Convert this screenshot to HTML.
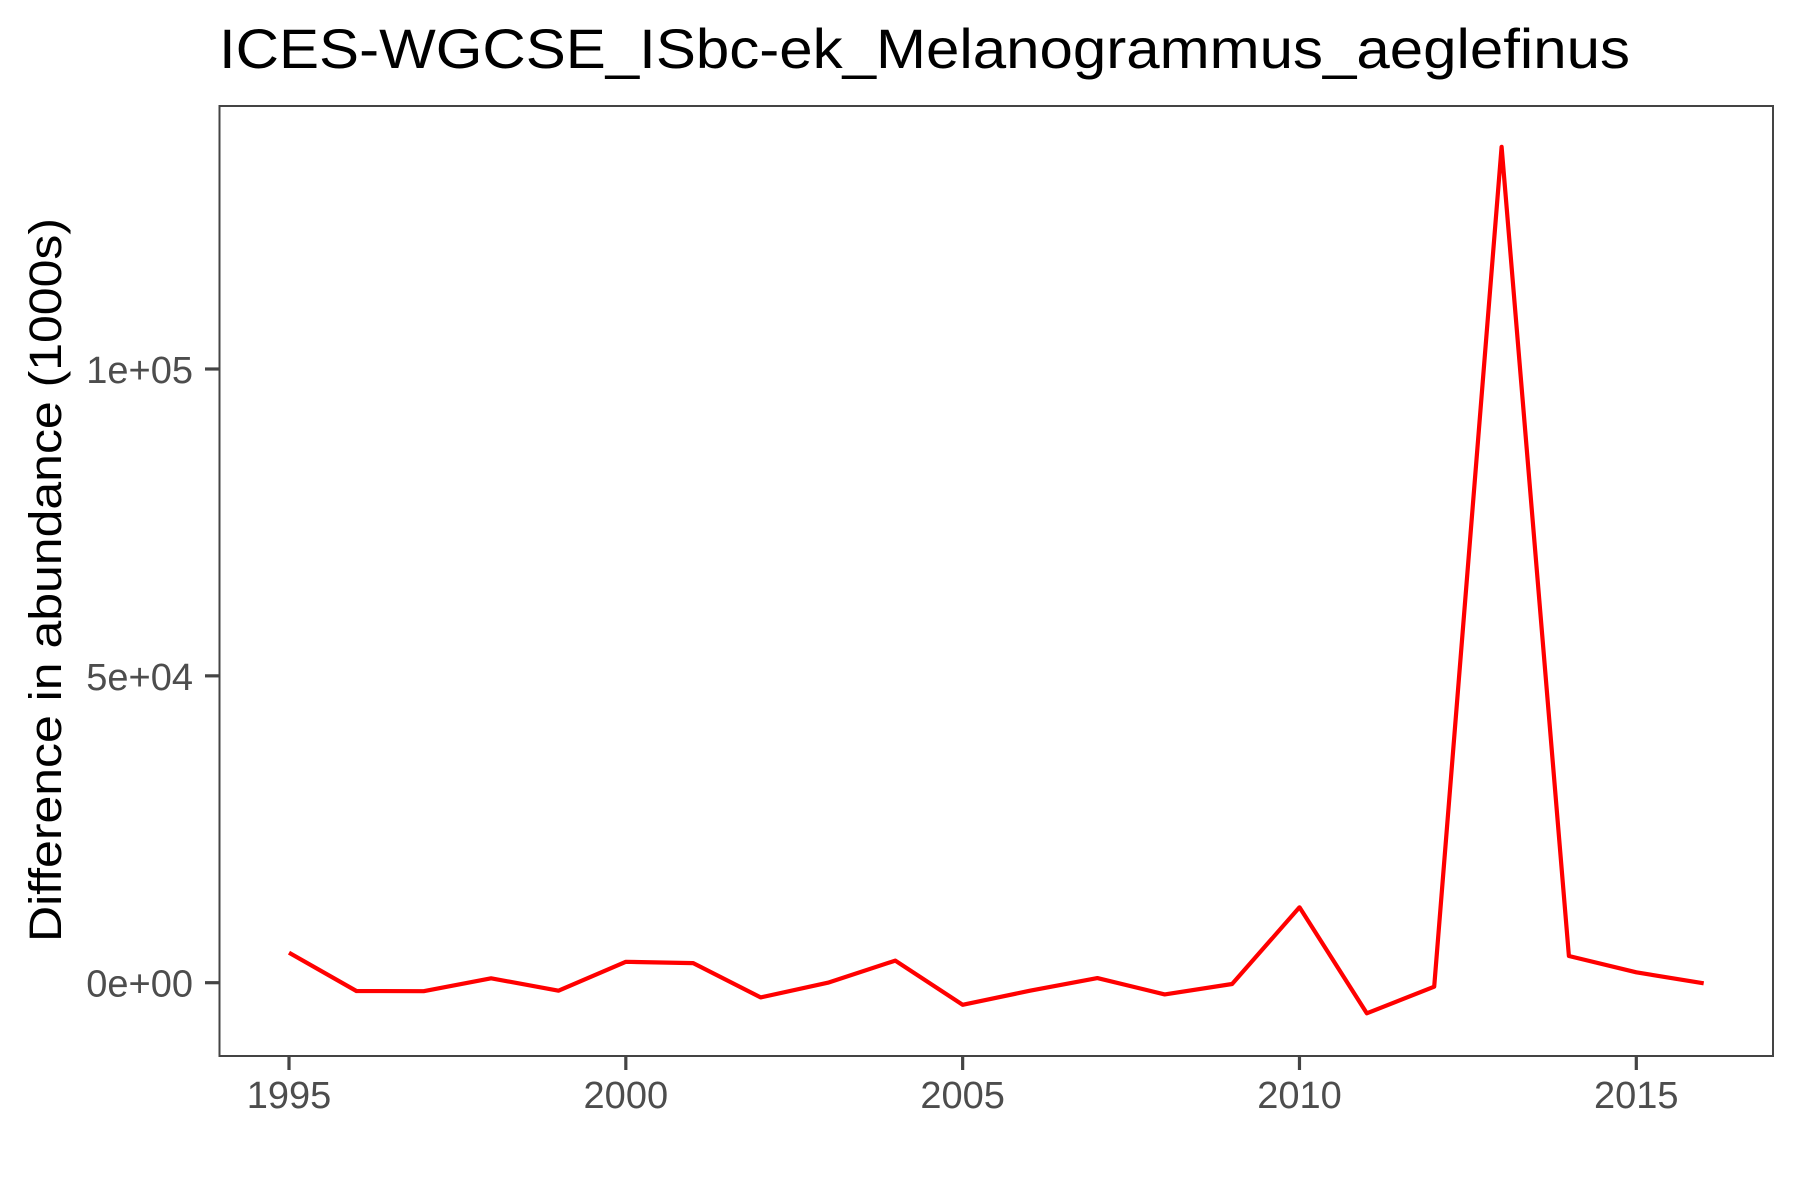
<!DOCTYPE html>
<html><head><meta charset="utf-8"><style>
html,body{margin:0;padding:0;background:#fff;}
svg{display:block;font-family:"Liberation Sans",Arial,sans-serif;}
</style></head><body>
<svg id="chart" width="1800" height="1200" viewBox="0 0 1800 1200">
<text x="219" y="68" font-size="56" fill="#000" textLength="1411" lengthAdjust="spacingAndGlyphs">ICES-WGCSE_ISbc-ek_Melanogrammus_aeglefinus</text>
<text transform="translate(61,580) rotate(-90)" text-anchor="middle" font-size="45" fill="#000" textLength="724" lengthAdjust="spacingAndGlyphs">Difference in abundance (1000s)</text>
<g id="marks"></g>
<rect x="219.5" y="106" width="1553.5" height="950" fill="none" stroke="#444" stroke-width="2"/>
</svg>
<script>
const years = [1995,1996,1997,1998,1999,2000,2001,2002,2003,2004,2005,2006,2007,2008,2009,2010,2011,2012,2013,2014,2015,2016];
const values = [4890,-1350,-1380,720,-1300,3400,3200,-2400,0,3600,-3600,-1300,750,-1900,-210,12290,-4990,-650,136200,4350,1690,-100];
const xTicks = [1995,2000,2005,2010,2015];
const xTickLabels = ["1995","2000","2005","2010","2015"];
const yTicks = [0,50000,100000];
const yTickLabels = ["0e+00","5e+04","1e+05"];

const NS="http://www.w3.org/2000/svg";
function xScale(v){return 289 + (v-1995)*(1636.3-289)/20;}
function yScale(v){return 982.7 - v*(982.7-369)/100000;}
const g=document.getElementById('marks');

xTicks.forEach((t,i)=>{
  const l=document.createElementNS(NS,'line');
  l.setAttribute('x1',xScale(t));l.setAttribute('x2',xScale(t));
  l.setAttribute('y1',1056);l.setAttribute('y2',1070);
  l.setAttribute('stroke','#444');l.setAttribute('stroke-width','3.2');
  
  
  g.appendChild(l);
  const tx=document.createElementNS(NS,'text');
  tx.setAttribute('x',xScale(t));tx.setAttribute('y',1108);
  tx.setAttribute('text-anchor','middle');tx.setAttribute('font-size','38');tx.setAttribute('fill','#4d4d4d');
  tx.textContent=xTickLabels[i];
  
  
  g.appendChild(tx);
});
yTicks.forEach((t,i)=>{
  const l=document.createElementNS(NS,'line');
  l.setAttribute('x1',205);l.setAttribute('x2',219);
  l.setAttribute('y1',yScale(t));l.setAttribute('y2',yScale(t));
  l.setAttribute('stroke','#444');l.setAttribute('stroke-width','3.2');
  
  
  g.appendChild(l);
  const tx=document.createElementNS(NS,'text');
  tx.setAttribute('x',193);tx.setAttribute('y',yScale(t)+14);
  tx.setAttribute('text-anchor','end');tx.setAttribute('font-size','38');tx.setAttribute('fill','#4d4d4d');
  tx.textContent=yTickLabels[i];
  
  
  g.appendChild(tx);
});
const pts=years.map((y,i)=>xScale(y).toFixed(1)+','+yScale(values[i]).toFixed(1)).join(' ');
const pl=document.createElementNS(NS,'polyline');
pl.setAttribute('points',pts);
pl.setAttribute('fill','none');pl.setAttribute('stroke','#ff0000');pl.setAttribute('stroke-width','4.2');
pl.setAttribute('stroke-linejoin','round');


g.appendChild(pl);
</script>
</body></html>
